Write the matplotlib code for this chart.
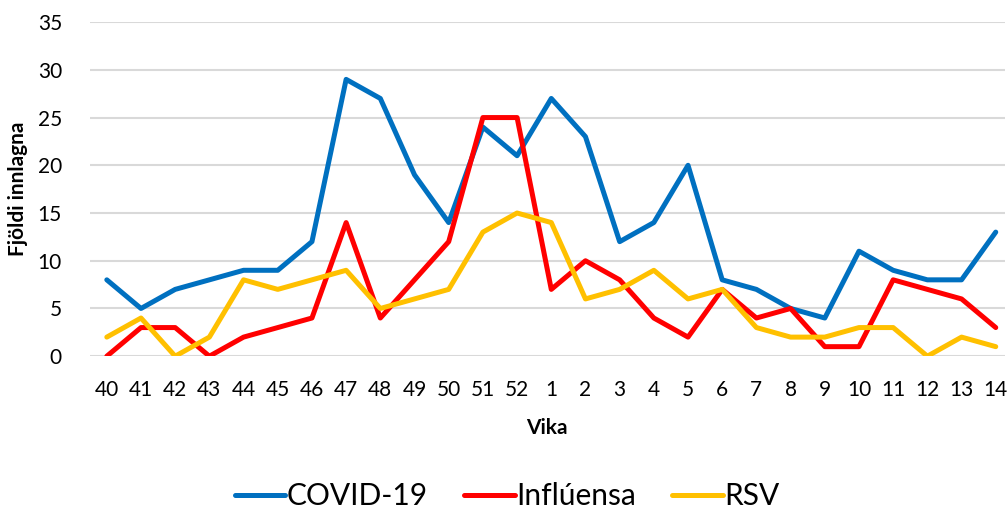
#!/usr/bin/env python3
import numpy as np
import matplotlib as mpl
import matplotlib.pyplot as plt

plt.rcParams['font.family'] = ['Lato', 'DejaVu Sans']

# weeks (vika) from week 40 to week 14 of next year
WEEKS = [str(w) for w in list(range(40, 53)) + list(range(1, 15))]

COVID = [8, 5, 7, 8, 9, 9, 12, 29, 27, 19, 14, 24, 21, 27, 23, 12, 14, 20, 8, 7, 5, 4, 11, 9, 8, 8, 13]
FLU   = [0, 3, 3, 0, 2, 3, 4, 14, 4, 8, 12, 25, 25, 7, 10, 8, 4, 2, 7, 4, 5, 1, 1, 8, 7, 6, 3]
RSV   = [2, 4, 0, 2, 8, 7, 8, 9, 5, 6, 7, 13, 15, 14, 6, 7, 9, 6, 7, 3, 2, 2, 3, 3, 0, 2, 1]

SERIES = [("COVID-19", COVID, "#0070C0"),
          ("Inflúensa", FLU, "#FF0000"),
          ("RSV", RSV, "#FFC000")]


def main():
    fig = plt.figure(figsize=(10.08, 5.14), dpi=100)
    ax = fig.add_axes([0.089, 0.307, 0.908, 0.650])

    x = np.arange(len(WEEKS))
    for name, vals, col in SERIES:
        ax.plot(x, vals, color=col, lw=3.6, label=name,
                solid_joinstyle='round', solid_capstyle='round', zorder=3)

    ax.set_ylim(0, 35)
    ax.set_yticks(range(0, 36, 5))
    ax.set_xlim(-0.5, len(WEEKS) - 0.73)
    ax.set_xticks(x)
    ax.set_xticklabels(WEEKS)

    ax.grid(axis='y', color='#D9D9D9', lw=1.5, zorder=0)
    for s in ax.spines.values():
        s.set_visible(False)
    ax.tick_params(length=0, labelsize=15)
    ax.tick_params(axis='x', pad=17)
    ax.tick_params(axis='y', pad=20)

    ax.set_xlabel('Vika', fontsize=15, fontweight='bold', labelpad=13)
    ax.set_ylabel('Fjöldi innlagna', fontsize=15, fontweight='bold', labelpad=7)

    fig.legend(loc='lower center', bbox_to_anchor=(0.503, -0.045), ncol=3,
               frameon=False, fontsize=21.5, handlelength=1.7, handletextpad=0.05,
               columnspacing=1.2)

    fig.savefig('out.png', dpi=100)
    plt.close(fig)


if __name__ == "__main__":
    main()
